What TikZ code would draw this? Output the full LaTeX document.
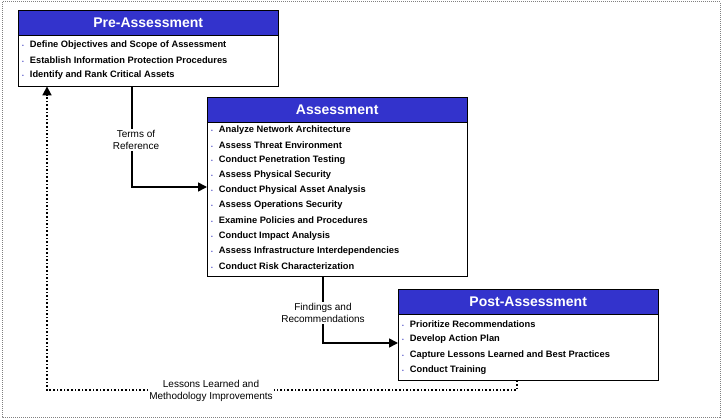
\documentclass[tikz,border=0pt]{standalone}
\usepackage{fontspec}
\setmainfont{Liberation Sans}
\usetikzlibrary{arrows.meta}
\definecolor{hdr}{RGB}{51,51,204}
\definecolor{bul}{RGB}{80,80,200}
\tikzset{
 hbox/.style={draw=black,fill=hdr,text=white,font=\bfseries\fontsize{14}{16}\selectfont,minimum height=25pt,minimum width=260pt,inner sep=0pt,anchor=north west},
 bbox/.style={draw=black,fill=white,minimum width=260pt,inner sep=0pt,anchor=north west},
 item/.style={font=\bfseries\fontsize{9.3}{11}\selectfont,anchor=west,inner sep=0pt},
 lbl/.style={font=\fontsize{10}{12.5}\selectfont,align=center,inner sep=1pt},
 conn/.style={line width=1.6pt},
 dconn/.style={line width=1.6pt,dotted},
 tip/.style={-{Triangle[length=9pt,width=9pt]}}
}
\newcommand{\itm}[3]{\node[item] (#1) at (#2) {\textcolor{bul}{\tiny\textbullet}\hspace{6pt}#3};}
\begin{document}
\begin{tikzpicture}[x=1pt,y=-1pt]
\useasboundingbox (0,0) rectangle (723,420);
\draw[gray,densely dotted,line width=1pt] (2,2) rectangle (720,417);
% Pre
\node[bbox,minimum height=52pt] (preb) at (18,34) {};
\node[hbox] (pre) at (18,10) {Pre-Assessment};
\itm{p1}{22,45}{Define Objectives and Scope of Assessment}
\itm{p2}{22,60}{Establish Information Protection Procedures}
\itm{p3}{22,75}{Identify and Rank Critical Assets}
% Assessment
\node[bbox,minimum height=154pt] (asb) at (207,122) {};
\node[hbox] (as) at (207,97) {Assessment};
\itm{a1}{211,130}{Analyze Network Architecture}
\itm{a2}{211,145.1}{Assess Threat Environment}
\itm{a3}{211,160.2}{Conduct Penetration Testing}
\itm{a4}{211,175.3}{Assess Physical Security}
\itm{a5}{211,190.4}{Conduct Physical Asset Analysis}
\itm{a6}{211,205.5}{Assess Operations Security}
\itm{a7}{211,220.6}{Examine Policies and Procedures}
\itm{a8}{211,235.7}{Conduct Impact Analysis}
\itm{a9}{211,250.8}{Assess Infrastructure Interdependencies}
\itm{a10}{211,265.9}{Conduct Risk Characterization}
% Post
\node[bbox,minimum height=66pt] (pob) at (398,314) {};
\node[hbox] (po) at (398,289) {Post-Assessment};
\itm{q1}{402,324}{Prioritize Recommendations}
\itm{q2}{402,339.3}{Develop Action Plan}
\itm{q3}{402,354.6}{Capture Lessons Learned and Best Practices}
\itm{q4}{402,369.9}{Conduct Training}
% labels
\node[lbl] (tor) at (136,140) {Terms of\\Reference};
\node[lbl] (far) at (323,313) {Findings and\\Recommendations};
\node[lbl] (llm) at (211,391) {Lessons Learned and\\Methodology Improvements};
% connectors
\draw[conn] (preb.south -| 132,0) -- (tor.north -| 132,0);
\draw[conn,tip] (tor.south -| 132,0) -- (132,187) -- (asb.west |- 0,187);
\draw[conn] (asb.south -| 323,0) -- (far.north -| 323,0);
\draw[conn,tip] (far.south -| 323,0) -- (323,343) -- (pob.west |- 0,343);
\draw[dconn] (pob.south -| 517,0) -- (517,390) -- (llm.east |- 0,390);
\draw[dconn] (llm.west |- 0,390) -- (47,390) -- (47,95);
\draw[conn,tip] (47,96) -- (preb.south -| 47,0);
\end{tikzpicture}
\end{document}
